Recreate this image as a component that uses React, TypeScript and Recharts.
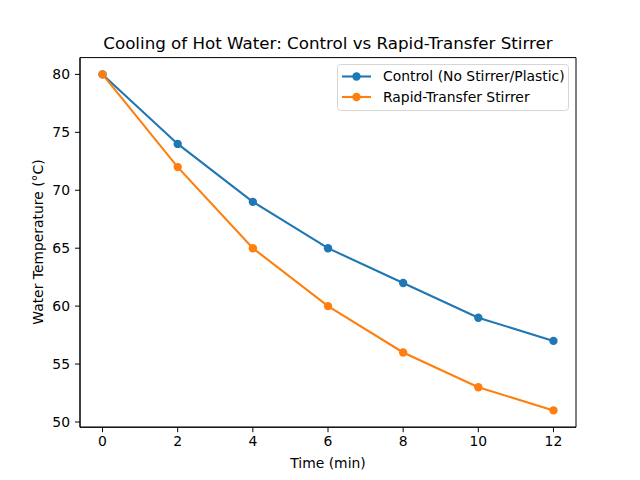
import React from 'react';
import { LineChart, Line, XAxis, YAxis, ReferenceArea, Legend, Customized } from 'recharts';

const times = [0, 2, 4, 6, 8, 10, 12];
const controlTemps = [80, 74, 69, 65, 62, 59, 57];
const stirrerTemps = [80, 72, 65, 60, 56, 53, 51];
const xTicks = [0, 2, 4, 6, 8, 10, 12];
const yTicks = [50, 55, 60, 65, 70, 75, 80];
const seriesKeys = ['control', 'stirrer'];
const seriesNames = ['Control (No Stirrer/Plastic)', 'Rapid-Transfer Stirrer'];
const seriesColors = ['#1f77b4', '#ff7f0e'];

const data = times.map((t, i) => ({ time: t, control: controlTemps[i], stirrer: stirrerTemps[i] }));

const FONT = 'DejaVu Sans, sans-serif';
const X_DOMAIN = [-0.6, 12.6];
const Y_DOMAIN = [49.55, 81.45];

const renderLegend = () => (
  <svg width={233} height={48} style={{ display: 'block' }}>
    <rect x={0.5} y={0.5} width={231} height={46} rx={3} fill="#fff" fillOpacity={0.8} stroke="#d6d6d6" />
    {seriesNames.map((name, i) => {
      const cy = 12.5 + i * 20.5;
      return (
        <g key={name}>
          <line x1={5} x2={34} y1={cy} y2={cy} stroke={seriesColors[i]} strokeWidth={2.1} />
          <circle cx={19.5} cy={cy} r={4.2} fill={seriesColors[i]} />
          <text x={46} y={cy} dy="0.35em" fontSize={13.9} fontFamily={FONT} fill="#000">{name}</text>
        </g>
      );
    })}
  </svg>
);

const Labels = () => (
  <g fontFamily={FONT} fill="#000">
    <text x={328} y={49} textAnchor="middle" fontSize={16.7}>Cooling of Hot Water: Control vs Rapid-Transfer Stirrer</text>
    <text x={328} y={468} textAnchor="middle" fontSize={13.9}>Time (min)</text>
    <text x={43} y={242} textAnchor="middle" fontSize={13.9} transform="rotate(-90 43 242)">Water Temperature (°C)</text>
  </g>
);

const App = () => {
  return (
    <div style={{ position: 'fixed', left: 0, top: 0, width: 640, height: 480, background: '#fff' }}>
      <LineChart width={640} height={480} data={data} margin={{ top: 57.6, right: 64, bottom: 0, left: 0 }}>
        <XAxis
          dataKey="time"
          type="number"
          domain={X_DOMAIN}
          ticks={xTicks}
          allowDataOverflow
          height={52.8}
          tickSize={5}
          tickMargin={4}
          stroke="#000"
          tick={{ fill: '#000', fontSize: 13.9, fontFamily: FONT }}
          tickLine={{ stroke: '#000' }}
        />
        <YAxis
          type="number"
          domain={Y_DOMAIN}
          ticks={yTicks}
          allowDataOverflow
          width={80}
          tickSize={5}
          tickMargin={5}
          stroke="#000"
          tick={{ fill: '#000', fontSize: 13.9, fontFamily: FONT }}
          tickLine={{ stroke: '#000' }}
        />
        <ReferenceArea x1={X_DOMAIN[0]} x2={X_DOMAIN[1]} y1={Y_DOMAIN[0]} y2={Y_DOMAIN[1]} fill="none" stroke="#000" strokeWidth={1} />
        {seriesKeys.map((key, i) => (
          <Line
            key={key}
            dataKey={key}
            name={seriesNames[i]}
            type="linear"
            stroke={seriesColors[i]}
            strokeWidth={2.1}
            dot={{ r: 4.2, fill: seriesColors[i], stroke: seriesColors[i], strokeWidth: 0 }}
            isAnimationActive={false}
          />
        ))}
        <Legend
          layout="vertical"
          align="center"
          verticalAlign="middle"
          content={renderLegend}
          wrapperStyle={{ top: 64, left: 337, width: 233, height: 48 }}
        />
        <Customized component={Labels} />
      </LineChart>
    </div>
  );
};

export default App;
